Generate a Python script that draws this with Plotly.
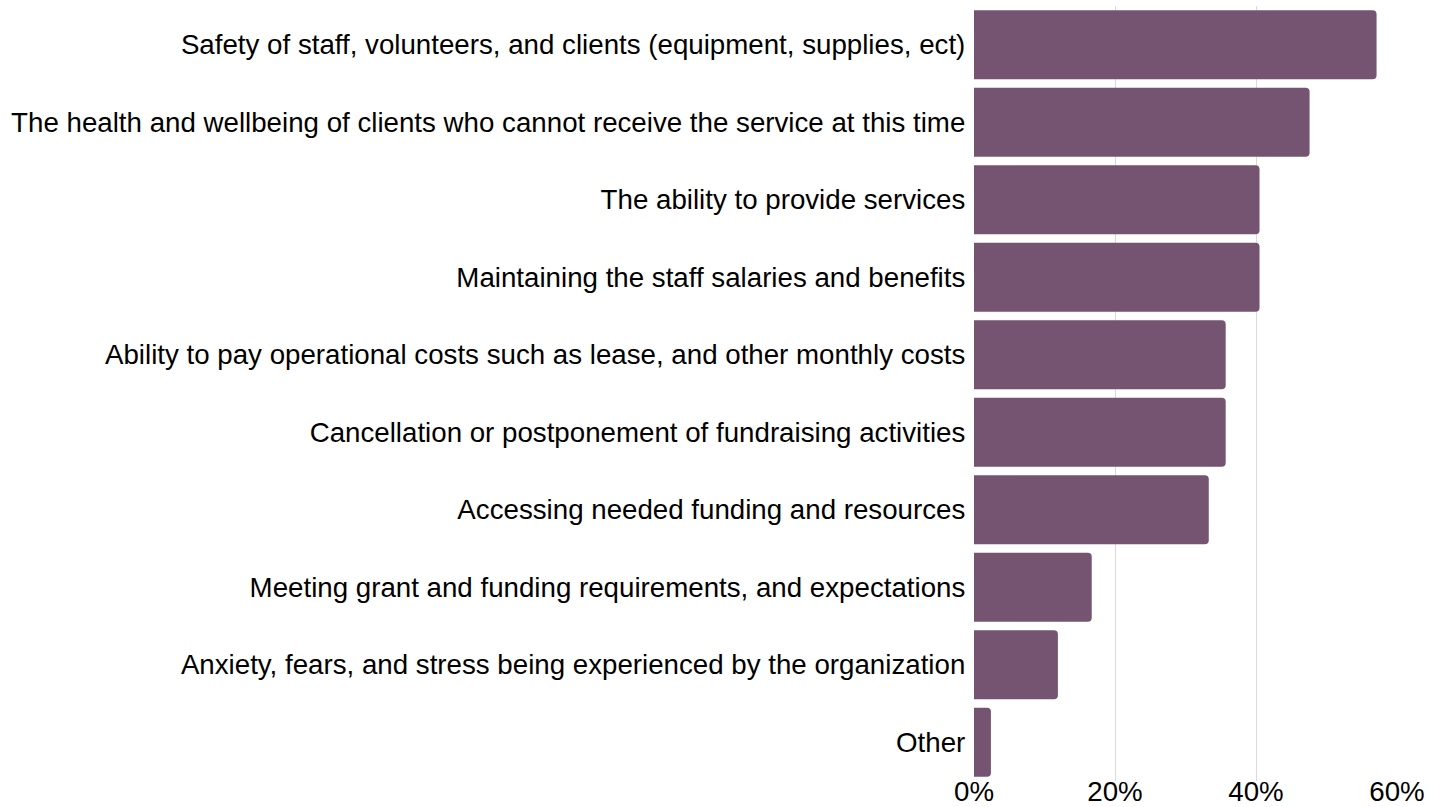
import plotly.graph_objects as go

# Share of respondents naming each concern (percent)
categories = [
    "Safety of staff, volunteers, and clients (equipment, supplies, ect)",
    "The health and wellbeing of clients who cannot receive the service at this time",
    "The ability to provide services",
    "Maintaining the staff salaries and benefits",
    "Ability to pay operational costs such as lease, and other monthly costs",
    "Cancellation or postponement of fundraising activities",
    "Accessing needed funding and resources",
    "Meeting grant and funding requirements, and expectations",
    "Anxiety, fears, and stress being experienced by the organization",
    "Other",
]
shares = [57.1, 47.6, 40.5, 40.5, 35.7, 35.7, 33.3, 16.7, 11.9, 2.4]
tick_values = [0, 20, 40, 60]
tick_labels = ["0%", "20%", "40%", "60%"]

FONT_SIZE = 27.7

fig = go.Figure(
    go.Bar(
        x=shares,
        y=categories,
        orientation="h",
        marker=dict(color="#745470", line=dict(width=0)),
        hoverinfo="x+y",
    )
)

fig.update_layout(
    width=1443,
    height=807,
    margin=dict(l=974, r=46, t=6, b=26),
    plot_bgcolor="white",
    paper_bgcolor="white",
    bargap=0.11,
    barcornerradius=4,
    font=dict(family="Liberation Sans, Arial, sans-serif", size=FONT_SIZE, color="#000000"),
    showlegend=False,
)
fig.update_xaxes(
    range=[0, 60],
    tickvals=tick_values,
    ticktext=tick_labels,
    showgrid=True,
    gridcolor="#d9d9d9",
    gridwidth=1,
    zeroline=False,
    showline=False,
    ticks="",
    tickfont=dict(size=FONT_SIZE),
    ticklabelstandoff=-9,
    automargin=False,
)
fig.update_yaxes(
    autorange="reversed",
    showgrid=False,
    ticks="",
    ticksuffix=" ",
    tickfont=dict(size=FONT_SIZE),
    automargin=False,
)

fig.write_html("out.html")
